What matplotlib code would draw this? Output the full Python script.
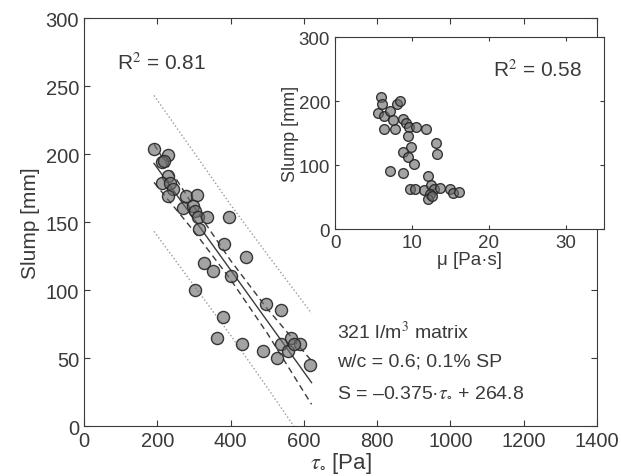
import matplotlib
matplotlib.use("Agg")
import matplotlib.pyplot as plt
import numpy as np

plt.rcParams['font.family'] = ['Liberation Sans', 'DejaVu Sans']
plt.rcParams['mathtext.fontset'] = 'stix'

# main panel: slump vs yield stress
tau0 = [191, 230, 212, 218, 230, 214, 235, 244, 230, 278, 307, 269, 298, 303, 312, 335, 315,
        397, 383, 441, 327, 353, 401, 303, 497, 538, 380, 362, 430, 488, 526, 538, 565, 558,
        590, 574, 617]
slump_tau = [204, 199, 194, 195, 184, 179, 179, 174, 169, 169, 170, 160, 162, 158, 154, 154, 145,
             154, 134, 124, 120, 114, 110, 100, 90, 85, 80, 65, 60, 55, 50, 60, 65, 55,
             60, 60, 45]

# inset: slump vs plastic viscosity
mu = [6.0, 6.1, 5.6, 6.4, 7.1, 8.1, 8.5, 6.4, 7.8, 7.5, 8.8, 9.3, 9.6, 10.5, 11.8, 9.5, 13.2,
      13.3, 9.9, 8.9, 9.5, 10.3, 7.1, 8.9, 12.1, 9.8, 10.4, 11.6, 12.5, 12.9, 13.6, 12.3, 12.1,
      15.0, 15.4, 16.2, 12.6]
slump_mu = [206, 195, 181, 176, 185, 195, 200, 156, 156, 171, 172, 166, 159, 160, 156, 146, 135,
            117, 128, 121, 112, 102, 91, 87, 83, 62, 62, 61, 68, 62, 64, 55, 47,
            62, 57, 58, 51]

# regression S = slope*tau + intercept (from the annotation)
slope = -0.375
intercept = 264.8
# band half-widths at these tau values
band_tau = [191, 300, 400, 500, 621]
conf_hw = [14, 9, 7, 9, 16]        # dashed
pred_hw = [50, 49, 48, 49, 51]     # dotted

dark = '#3a3a3a'
fc = (0.42, 0.42, 0.42, 0.62)
ec = (0.15, 0.15, 0.15, 0.9)

fig = plt.figure(figsize=(6.21, 4.77), dpi=100)
ax = fig.add_axes([0.1353, 0.1048, 0.826, 0.855])

bt = np.array(band_tau, dtype=float)
fit = slope * bt + intercept
ax.plot(bt, fit, '-', color=dark, lw=1.0)
ax.plot(bt, fit + np.array(conf_hw), color=dark, lw=1.0, dashes=(4.5, 3))
ax.plot(bt, fit - np.array(conf_hw), color=dark, lw=1.0, dashes=(4.5, 3))
ax.plot(bt, fit + np.array(pred_hw), color='#9a9a9a', lw=1.0, ls=':')
ax.plot(bt, fit - np.array(pred_hw), color='#9a9a9a', lw=1.0, ls=':')
ax.plot(tau0, slump_tau, 'o', ms=8.7, mfc=fc, mec=ec, mew=1.0, ls='none')

ax.set_xlim(0, 1400)
ax.set_ylim(0, 300)
ax.set_xticks(range(0, 1401, 200))
ax.set_yticks(range(0, 301, 50))
ax.tick_params(direction='in', top=True, right=True, labelsize=14.5, colors=dark, length=4)
for s in ax.spines.values():
    s.set_color(dark)
ax.set_xlabel(r'$\tau_{\circ}$ [Pa]', fontsize=16, color=dark, labelpad=0)
ax.set_ylabel('Slump [mm]', fontsize=15, color=dark, labelpad=4)

ax.text(90, 268, r'R$^2$ = 0.81', fontsize=15, color=dark, va='center')
ax.text(690, 70, r'321 l/m$^3$ matrix', fontsize=14, color=dark, va='center')
ax.text(690, 48, 'w/c = 0.6; 0.1% SP', fontsize=14, color=dark, va='center')
ax.text(690, 25, r'S = –0.375·$\tau_{\circ}$ + 264.8', fontsize=14, color=dark, va='center')

# inset
ins = fig.add_axes([0.5395, 0.5178, 0.433, 0.4025])
ins.set_facecolor('white')
ins.plot(mu, slump_mu, 'o', ms=7, mfc=fc, mec=ec, mew=1.0, ls='none')
ins.set_xlim(0, 35)
ins.set_ylim(0, 300)
ins.set_xticks([0, 10, 20, 30])
ins.set_yticks([0, 100, 200, 300])
ins.tick_params(direction='in', top=True, right=True, labelsize=13.5, colors=dark, length=3)
for s in ins.spines.values():
    s.set_color(dark)
ins.set_xlabel('μ [Pa·s]', fontsize=13.5, color=dark, labelpad=0)
ins.set_ylabel('Slump [mm]', fontsize=13, color=dark, labelpad=0)
ins.text(20.5, 250, r'R$^2$ = 0.58', fontsize=15, color=dark, va='center')

fig.savefig('out.png', dpi=100)
